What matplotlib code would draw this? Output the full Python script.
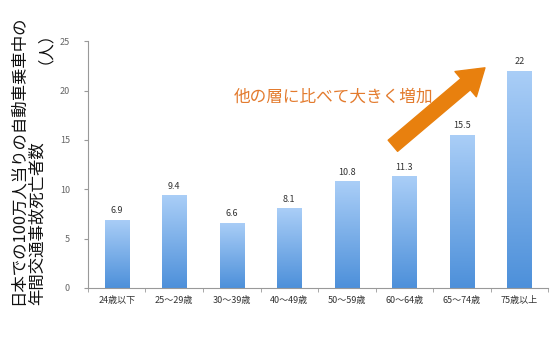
import matplotlib.pyplot as plt
import numpy as np
from matplotlib.colors import LinearSegmentedColormap

plt.rcParams['font.family'] = ['Noto Sans CJK JP', 'DejaVu Sans']

# 年齢層別の死亡者数（100万人当り）
categories = ['24歳以下', '25〜29歳', '30〜39歳', '40〜49歳',
              '50〜59歳', '60〜64歳', '65〜74歳', '75歳以上']
values = [6.9, 9.4, 6.6, 8.1, 10.8, 11.3, 15.5, 22]
yticks = [0, 5, 10, 15, 20, 25]

fig = plt.figure(figsize=(5.6, 3.46), dpi=100)
ax = fig.add_axes([0.157, 0.168, 0.822, 0.713])

x = np.arange(len(categories))
bar_w = 0.42
cmap = LinearSegmentedColormap.from_list('blu', ['#4D90DA', '#AACEF7'])
grad = np.linspace(0, 1, 256).reshape(-1, 1)

bars = ax.bar(x, values, width=bar_w, color='none', edgecolor='none')
for b, v in zip(bars, values):
    im = ax.imshow(grad, cmap=cmap, aspect='auto', origin='lower',
                   extent=[b.get_x(), b.get_x() + bar_w, 0, v], zorder=2)
    im.set_clip_path(b)
    ax.text(b.get_x() + bar_w / 2, v + 0.45, f'{v:g}', ha='center', va='bottom',
            fontsize=6.5, color='#333333')

ax.set_xlim(-0.5, len(categories) - 0.5)
ax.set_ylim(0, 25)
ax.set_yticks(yticks)
ax.set_xticks(x)
ax.set_xticklabels(categories, fontsize=6.5, color='#333333')
ax.set_xticks(np.arange(-0.5, len(categories)), minor=True)
ax.tick_params(axis='x', which='major', length=0, pad=6)
ax.tick_params(axis='x', which='minor', length=3, color='#999999', direction='out')
ax.tick_params(axis='y', labelsize=6.5, labelcolor='#666666', length=3,
               color='#999999', pad=10)
for s in ['top', 'right']:
    ax.spines[s].set_visible(False)
for s in ['left', 'bottom']:
    ax.spines[s].set_color('#999999')
    ax.spines[s].set_linewidth(0.8)

# 縦書きの軸ラベル
fig.text(0.032, 0.118, '日本での100万人当りの自動車乗車中の', rotation=90,
         ha='center', va='bottom', fontsize=11.8, color='#111111')
fig.text(0.066, 0.118, '年間交通事故死亡者数', rotation=90,
         ha='center', va='bottom', fontsize=11.8, color='#111111')
fig.text(0.066, 0.957, '（人）', rotation=90,
         ha='center', va='top', fontsize=11.8, color='#111111')

# 注釈
ax.text(2.04, 19.3, '他の層に比べて大きく増加', fontsize=12, color='#E37B2E',
        ha='left', va='center')
ax.annotate('', xy=(6.4, 22.3), xytext=(4.8, 14.4),
            arrowprops=dict(arrowstyle='simple,head_width=1.7,head_length=1.3,tail_width=0.75',
                            color='#E8800E', mutation_scale=14, shrinkA=0, shrinkB=0))

fig.savefig('out.png', dpi=100)
